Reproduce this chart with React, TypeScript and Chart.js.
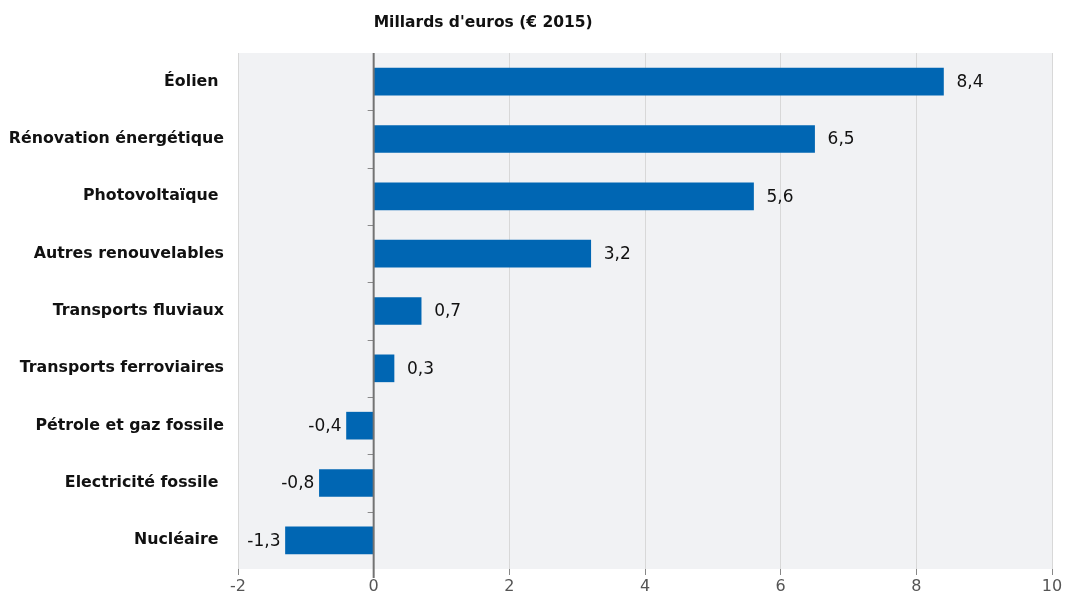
import React, { useEffect, useRef } from "react";
import { Chart, registerables } from "chart.js";

Chart.register(...registerables);

const categories = [
  "Éolien ",
  "Rénovation énergétique",
  "Photovoltaïque ",
  "Autres renouvelables",
  "Transports fluviaux",
  "Transports ferroviaires",
  "Pétrole et gaz fossile",
  "Electricité fossile ",
  "Nucléaire ",
];
const values = [8.4, 6.5, 5.6, 3.2, 0.7, 0.3, -0.4, -0.8, -1.3];
const xTicks = [-2, 0, 2, 4, 6, 8, 10];
const title = "Millards d'euros (€ 2015)";

const FONT = "'DejaVu Sans', sans-serif";

export default function App() {
  const ref = useRef<HTMLCanvasElement | null>(null);
  useEffect(() => {
    const canvas = ref.current;
    if (!canvas) return;
    const bgPlugin = {
      id: "bg",
      beforeDraw(chart: any) {
        const { ctx, chartArea: a } = chart;
        ctx.save();
        ctx.fillStyle = "#f1f2f4";
        ctx.fillRect(a.left, a.top, a.right - a.left, a.bottom - a.top);
        ctx.restore();
      },
      afterDatasetsDraw(chart: any) {
        const { ctx, chartArea: a } = chart;
        const xs = chart.scales.x;
        const ys = chart.scales.y;
        const x0 = xs.getPixelForValue(0);
        ctx.save();
        // category boundary ticks
        ctx.strokeStyle = "#8a8a8a";
        ctx.lineWidth = 1;
        const n = categories.length;
        for (let i = 1; i < n; i++) {
          const y = Math.round((ys.getPixelForValue(i - 1) + ys.getPixelForValue(i)) / 2) + 0.5;
          ctx.beginPath();
          ctx.moveTo(x0 - 6, y);
          ctx.lineTo(x0, y);
          ctx.stroke();
        }
        // zero line
        ctx.strokeStyle = "#737373";
        ctx.lineWidth = 2;
        ctx.beginPath();
        ctx.moveTo(x0, a.top);
        ctx.lineTo(x0, a.bottom + 9);
        ctx.stroke();
        // value labels
        ctx.fillStyle = "#111";
        ctx.font = "17px " + FONT;
        ctx.textBaseline = "middle";
        const meta = chart.getDatasetMeta(0);
        meta.data.forEach((bar: any, i: number) => {
          const v = values[i];
          const txt = v.toFixed(1).replace(".", ",");
          if (v >= 0) {
            ctx.textAlign = "left";
            ctx.fillText(txt, bar.x + 13, bar.y + 1);
          } else {
            ctx.textAlign = "right";
            ctx.fillText(txt, bar.x - 5, bar.y + 1);
          }
        });
        // title
        ctx.fillStyle = "#111";
        ctx.font = "bold 15.5px " + FONT;
        ctx.textAlign = "left";
        ctx.fillText(title, x0, 23);
        ctx.restore();
      },
    };
    const chart = new Chart(canvas, {
      type: "bar",
      data: {
        labels: categories,
        datasets: [
          {
            data: values,
            backgroundColor: "#0066b3",
            barThickness: 27,
            categoryPercentage: 1,
            barPercentage: 1,
          },
        ],
      },
      options: {
        indexAxis: "y",
        animation: false,
        responsive: false,
        maintainAspectRatio: false,
        layout: { padding: { top: 53, right: 14, left: 0, bottom: 0 } },
        plugins: { legend: { display: false }, tooltip: { enabled: false }, title: { display: false } },
        scales: {
          x: {
            min: -2,
            max: 10,
            afterBuildTicks: (s: any) => {
              s.ticks = xTicks.map((v) => ({ value: v }));
            },
            ticks: {
              color: "#555",
              font: { size: 16, family: FONT },
              padding: 2,
              maxRotation: 0,
            },
            grid: { color: "#d8d8d8", tickLength: 6, tickColor: "#888" },
            border: { display: false },
            afterFit: (s: any) => {
              s.height = 27;
            },
          },
          y: {
            ticks: {
              color: "#111",
              font: { size: 15.8, weight: "bold", family: FONT },
              padding: 14,
            },
            grid: { display: false, drawTicks: false },
            border: { display: false },
            afterFit: (s: any) => {
              s.width = 238;
            },
          },
        },
      },
      plugins: [bgPlugin],
    } as any);
    return () => chart.destroy();
  }, []);
  return (
    <div style={{ position: "fixed", left: 0, top: 0, width: 1066, height: 596, background: "#fff" }}>
      <canvas ref={ref} width={1066} height={596} />
    </div>
  );
}
